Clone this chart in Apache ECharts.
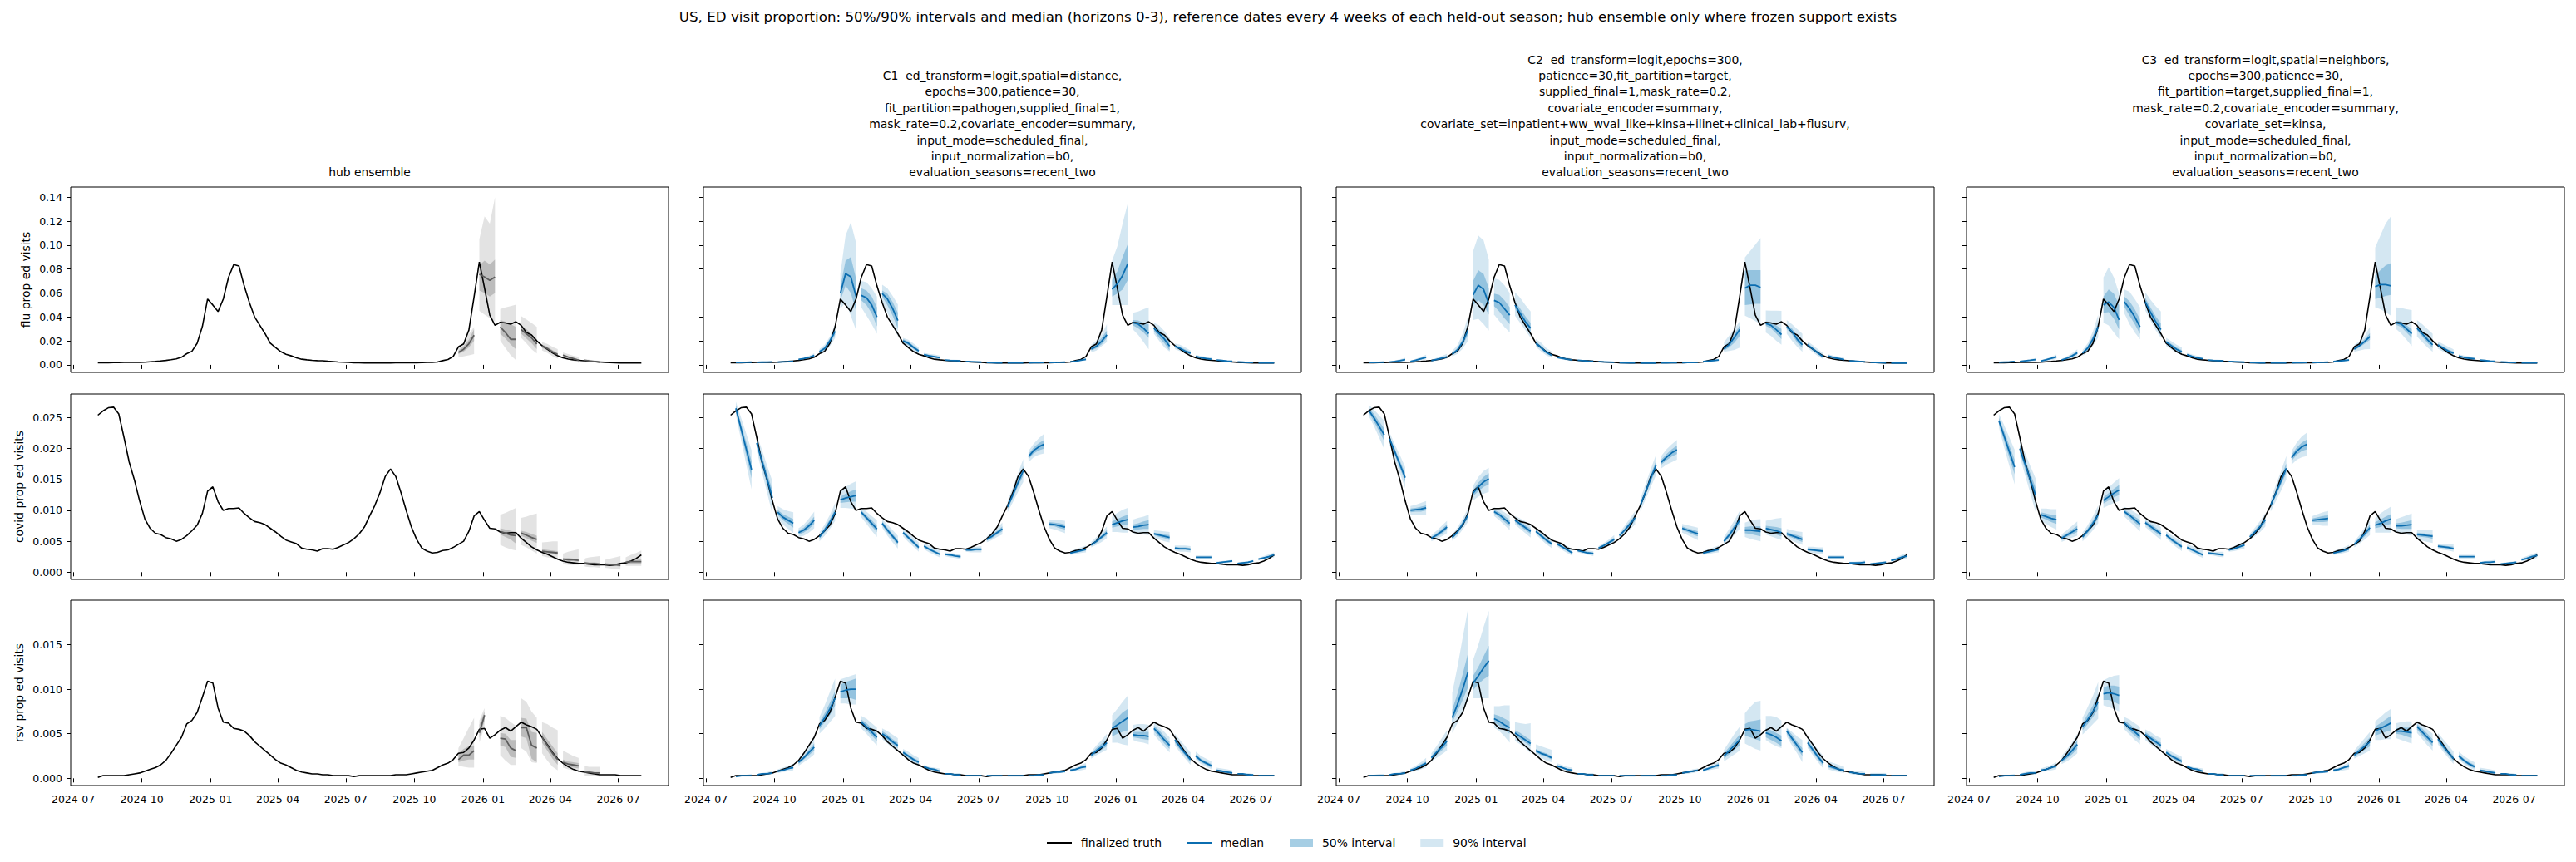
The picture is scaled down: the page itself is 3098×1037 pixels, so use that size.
<!DOCTYPE html>
<html>
<head>
<meta charset="utf-8">
<script src="https://cdn.jsdelivr.net/npm/echarts@6/dist/echarts.min.js"></script>
<style>
html,body{margin:0;padding:0;background:#fff;}
#chart{width:3098px;height:1037px;}
</style>
</head>
<body>
<div id="chart"></div>
<script>
// ---------------- DATA ----------------
const firstWeek = '2024-08-03';           // first weekly target date
const valueUnit = 1e-4;                   // all values below are in units of 1e-4
const tickLabels = ['2024-07','2024-10','2025-01','2025-04','2025-07','2025-10','2026-01','2026-04','2026-07'];
const fluTicks = [0,0.02,0.04,0.06,0.08,0.10,0.12,0.14];
const covidTicks = [0,0.005,0.010,0.015,0.020,0.025];
const rsvTicks = [0,0.005,0.010,0.015];
const rowNames = ['flu prop ed visits','covid prop ed visits','rsv prop ed visits'];
const mainTitle = 'US, ED visit proportion: 50%/90% intervals and median (horizons 0-3), reference dates every 4 weeks of each held-out season; hub ensemble only where frozen support exists';
const colTitles = [
 ['hub ensemble'],
 ['C1  ed_transform=logit,spatial=distance,','epochs=300,patience=30,','fit_partition=pathogen,supplied_final=1,','mask_rate=0.2,covariate_encoder=summary,','input_mode=scheduled_final,','input_normalization=b0,','evaluation_seasons=recent_two'],
 ['C2  ed_transform=logit,epochs=300,','patience=30,fit_partition=target,','supplied_final=1,mask_rate=0.2,','covariate_encoder=summary,','covariate_set=inpatient+ww_wval_like+kinsa+ilinet+clinical_lab+flusurv,','input_mode=scheduled_final,','input_normalization=b0,','evaluation_seasons=recent_two'],
 ['C3  ed_transform=logit,spatial=neighbors,','epochs=300,patience=30,','fit_partition=target,supplied_final=1,','mask_rate=0.2,covariate_encoder=summary,','covariate_set=kinsa,','input_mode=scheduled_final,','input_normalization=b0,','evaluation_seasons=recent_two']
];
const legendNames = ['finalized truth','median','50% interval','90% interval'];

// weekly finalized truth (105 weeks)
const fluTruth = [18,18,18,19,19,20,20,21,21,22, 25,28,32,37,43,50,63,93,113,180,
 320,550,500,445,550,730,838,826,660,520, 400,330,260,180,145,110,88,75,58,47,
 42,38,35,34,30,27,24,22,20,18, 17,16,16,15,15,15,16,17,18,18,
 18,18,19,20,21,24,35,45,70,150, 175,290,570,860,640,415,330,355,350,340,
 360,330,270,250,200,160,130,100,75,58, 48,42,38,34,30,27,24,21,19,17, 16,15,15,15,15];
const covidTruth = [254,261,266,267,256,218,178,149,115,86, 71,63,61,56,54,50,53,59,67,76,
 95,131,138,114,100,103,103,104,95,88, 82,80,77,71,65,58,52,49,46,39,
 37,36,34,38,38,37,40,44,48,54, 62,73,91,108,129,155,167,155,129,100,
 73,53,39,34,31,32,35,36,40,45, 50,66,91,98,84,71,70,65,63,64,
 64,55,48,41,36,32,29,25,21,18, 16,15,14,14,13,12,12,12,11,12, 14,15,18,22,28];
const rsvTruth = [1,3,3,3,3,3,4,5,6,8, 10,12,15,20,28,37,46,61,65,74,
 91,109,107,79,63,62,56,55,53,48, 41,36,31,26,21,17,15,12,9,7,
 6,5,5,4,4,3,3,3,3,2, 3,3,3,3,3,3,3,4,4,4,
 5,6,7,8,9,12,15,17,21,28, 29,34,43,55,56,45,49,54,57,53,
 58,63,60,58,55,46,38,29,22,17, 13,10,8,7,6,5,4,4,4,4, 3,3,3,3,3];

// forecast segments: [refIndex k, median h0..h3, q25 h0..h3, q75 h0..h3, q05 h0..h3, q95 h0..h3]
const hubFlu = [
[17, 104,130,176,248, 90,110,145,200, 120,155,210,300, 62,70,80,90, 140,190,260,317],
[18, 757,734,706,734, 620,600,570,600, 830,870,840,880, 450,420,390,360, 1050,1240,1180,1400],
[19, 317,270,213,213, 260,220,170,130, 375,360,340,317, 200,140,80,40, 467,480,490,502],
[20, 294,260,225,174, 260,220,180,132, 330,300,255,213, 225,180,130,95, 408,380,350,317],
[21, 155,137,108,86, 140,122,95,74, 170,152,122,98, 120,100,72,51, 190,175,150,132],
[22, 81,65,52,39, 74,58,46,34, 88,72,58,45, 58,45,35,16, 104,90,75,67],
[23, 39,33,28,21, 36,30,25,19, 42,36,31,24, 30,24,20,15, 48,42,38,34]
];
const c1Flu = [
[0, 19,20,21,22, 18,19,20,20, 20,21,22,23, 17,17,18,18, 21,23,24,26],
[1, 21,22,23,24, 20,21,22,22, 22,23,24,26, 19,19,20,20, 23,25,27,29],
[2, 23,25,27,30, 22,24,25,28, 24,26,29,32, 21,22,23,25, 26,29,32,36],
[3, 45,52,62,78, 42,48,57,71, 48,56,67,85, 38,43,50,60, 52,62,75,96],
[4, 110,137,200,280, 100,125,180,250, 120,150,220,310, 86,104,155,225, 132,167,236,340],
[5, 596,762,735,572, 540,660,600,450, 650,870,900,720, 470,520,410,290, 760,1080,1190,1020],
[6, 580,560,500,400, 540,500,430,320, 640,620,570,480, 480,410,340,260, 700,690,640,570],
[7, 596,550,470,370, 570,500,410,305, 620,595,525,435, 525,435,340,235, 670,640,575,505],
[8, 200,180,145,115, 185,165,132,102, 215,195,160,128, 178,145,113,86, 225,210,178,143],
[9, 85,75,68,60, 79,68,61,53, 92,82,75,67, 72,60,52,45, 100,92,86,78],
[10, 40,37,35,33, 37,34,32,30, 43,40,38,36, 34,31,29,27, 47,45,43,41],
[11, 28,26,24,22, 26,24,22,20, 30,28,26,24, 24,22,20,18, 33,31,29,27],
[12, 19,18,17,17, 18,17,16,16, 20,19,18,18, 17,16,15,15, 22,21,20,20],
[13, 16,16,16,16, 15,15,15,15, 17,17,17,17, 14,14,14,14, 18,18,19,19],
[14, 17,18,18,19, 16,17,17,18, 18,19,19,20, 15,16,16,16, 19,20,21,22],
[15, 19,20,21,22, 18,19,20,21, 20,21,22,24, 17,18,19,19, 21,23,25,27],
[16, 25,30,38,46, 23,28,34,41, 27,33,42,52, 21,25,30,36, 29,37,48,60],
[17, 132,155,197,250, 120,138,172,225, 150,180,225,285, 104,120,156,190, 167,202,255,340],
[18, 630,677,746,846, 570,595,630,710, 710,780,900,1010, 500,500,500,500, 870,990,1180,1350],
[19, 352,340,306,260, 330,305,270,225, 375,370,350,340, 295,250,190,130, 435,445,465,480],
[20, 306,260,215,155, 283,225,180,120, 330,295,248,190, 260,200,145,110, 352,330,283,225],
[21, 155,137,114,97, 145,125,103,86, 165,150,128,110, 132,114,97,81, 178,167,145,120],
[22, 70,60,53,47, 65,55,48,42, 75,65,58,52, 58,48,41,35, 83,74,68,62],
[23, 40,36,32,29, 38,34,30,27, 42,38,34,31, 35,31,27,24, 45,42,38,35],
[24, 24,22,20,19, 23,21,19,18, 25,23,21,20, 21,19,17,16, 27,25,24,23],
[25, 17,16,16,16, 16,15,15,15, 18,17,17,17, 15,14,14,13, 19,19,19,19]
];
const c2Flu = [
[0, 19,20,21,22, 18,19,20,21, 20,21,22,24, 17,18,18,19, 22,24,26,28],
[1, 23,28,35,43, 21,25,31,38, 25,31,39,48, 19,22,26,31, 28,36,46,58],
[2, 28,38,50,62, 25,34,44,55, 31,42,56,70, 22,29,37,45, 35,49,66,85],
[3, 35,45,55,67, 32,41,49,59, 38,50,62,75, 28,35,42,50, 43,58,74,92],
[4, 90,125,190,290, 80,110,165,250, 100,140,215,330, 70,92,135,200, 115,165,260,400],
[5, 584,665,630,510, 500,540,500,420, 700,790,760,640, 375,385,340,285, 950,1080,1040,880],
[6, 538,520,468,415, 490,445,388,340, 595,585,540,480, 420,365,315,270, 723,710,665,600],
[7, 500,430,360,306, 470,395,320,265, 530,470,405,350, 410,350,290,225, 607,560,500,445],
[8, 180,145,105,80, 165,130,93,70, 195,160,118,92, 150,112,80,60, 215,185,140,112],
[9, 63,55,47,40, 59,50,42,36, 67,60,52,45, 53,44,37,31, 74,67,60,52],
[10, 38,35,32,30, 36,33,30,28, 40,37,34,32, 33,30,27,25, 43,40,38,36],
[11, 27,25,23,21, 26,24,22,20, 28,26,24,22, 24,22,20,19, 30,28,26,25],
[12, 18,17,16,16, 17,16,15,15, 19,18,17,17, 16,15,14,14, 20,19,19,19],
[13, 15,15,15,15, 14,14,14,14, 16,16,16,16, 13,13,13,13, 17,17,17,17],
[14, 17,17,18,18, 16,16,17,17, 18,18,19,19, 15,15,16,16, 19,20,20,21],
[15, 18,19,20,21, 17,18,19,20, 19,20,21,22, 16,17,18,19, 20,21,23,24],
[16, 28,32,36,40, 26,29,33,36, 30,35,39,44, 24,26,29,32, 33,39,44,50],
[17, 132,170,230,294, 120,145,185,240, 155,195,258,330, 109,115,125,144, 190,245,300,364],
[18, 640,665,665,647, 500,505,510,510, 786,790,790,790, 410,390,365,340, 897,950,1005,1060],
[19, 345,330,294,253, 325,305,262,215, 365,355,330,300, 270,240,200,167, 455,452,452,450],
[20, 317,280,214,167, 300,255,186,140, 335,305,245,198, 260,200,150,109, 375,340,300,260],
[21, 167,132,98,67, 155,120,86,56, 180,145,112,80, 140,105,73,47, 195,165,130,97],
[22, 74,60,52,44, 68,55,47,39, 80,66,58,50, 60,48,40,33, 88,75,67,59],
[23, 34,31,28,25, 32,29,26,23, 36,33,30,27, 29,26,23,21, 39,36,33,30],
[24, 21,19,18,17, 20,18,17,16, 22,20,19,18, 19,17,16,15, 24,22,21,20],
[25, 15,15,15,15, 14,14,14,14, 16,16,16,16, 13,13,13,13, 17,17,17,17]
];
const c3Flu = [
[0, 21,23,25,28, 20,21,23,25, 22,25,27,31, 18,19,20,22, 24,27,31,35],
[1, 28,33,38,44, 26,30,34,39, 30,36,42,49, 23,26,29,33, 33,40,47,56],
[2, 32,42,54,67, 29,38,48,59, 35,46,60,75, 25,32,40,48, 39,52,68,86],
[3, 40,55,75,100, 36,49,66,88, 44,61,84,112, 31,41,55,72, 50,70,97,130],
[4, 97,140,215,317, 87,124,190,280, 107,157,240,355, 75,105,160,230, 122,180,280,420],
[5, 500,525,480,375, 435,440,385,295, 570,630,595,500, 352,330,270,213, 730,815,730,595],
[6, 526,470,400,317, 485,410,340,258, 570,530,465,380, 430,340,270,213, 630,610,550,480],
[7, 526,440,360,294, 495,400,318,245, 560,480,405,345, 455,370,290,225, 607,545,490,445],
[8, 190,160,130,109, 175,145,116,96, 205,175,145,122, 158,128,100,80, 225,197,168,145],
[9, 86,70,58,50, 80,64,52,45, 92,76,64,55, 72,56,45,38, 100,86,74,65],
[10, 40,37,35,33, 37,34,32,30, 43,40,38,36, 34,31,29,27, 47,44,42,40],
[11, 28,26,24,22, 26,24,22,20, 30,28,26,24, 24,22,20,18, 32,30,28,27],
[12, 19,18,17,17, 18,17,16,16, 20,19,18,18, 17,16,15,15, 21,20,20,20],
[13, 16,16,16,16, 15,15,15,15, 17,17,17,17, 14,14,14,14, 18,18,18,18],
[14, 17,18,18,19, 16,17,17,18, 18,19,19,20, 15,16,16,16, 19,20,21,22],
[15, 19,20,21,22, 18,19,20,21, 20,21,22,23, 17,18,18,19, 21,23,24,26],
[16, 28,32,36,40, 26,29,33,36, 30,35,39,44, 24,26,29,32, 33,39,44,50],
[17, 132,160,195,236, 122,146,176,210, 142,175,215,265, 109,120,130,132, 167,195,240,318],
[18, 653,670,670,660, 550,560,575,585, 746,790,830,850, 480,465,440,410, 980,1080,1180,1240],
[19, 352,340,300,260, 335,315,270,225, 370,362,330,300, 300,260,210,155, 480,475,465,457],
[20, 306,260,210,167, 288,235,183,140, 325,285,240,198, 235,190,145,109, 375,340,300,260],
[21, 165,140,115,97, 152,127,102,85, 178,152,128,110, 135,110,88,70, 195,173,150,130],
[22, 74,62,55,50, 68,56,49,44, 80,68,61,56, 60,48,41,36, 88,77,70,65],
[23, 40,36,32,29, 38,34,30,27, 42,38,34,31, 35,31,27,24, 45,42,38,35],
[24, 24,22,20,19, 23,21,19,18, 25,23,21,20, 21,19,17,16, 27,25,24,23],
[25, 17,16,16,16, 16,15,15,15, 18,17,17,17, 15,14,14,13, 19,19,19,19]
];
const hubCovid = [
[19, 66,63,60,59, 61,57,53,46, 71,69,67,65, 44,40,37,35, 93,96,100,104],
[20, 63,60,56,53, 59,55,51,47, 67,65,62,59, 44,40,35,30, 88,90,93,95],
[21, 34,33,32,31, 31,30,29,28, 37,36,35,34, 26,24,23,21, 48,49,50,50],
[22, 21,20,20,19, 19,18,18,17, 23,23,22,22, 13,12,12,12, 30,33,35,37],
[23, 15,14,14,13, 13,12,12,11, 17,16,16,15, 9,8,8,7, 22,24,25,26],
[24, 13,12,12,11, 11,10,10,9, 15,14,14,13, 7,6,5,4, 20,22,24,26],
[25, 16,17,17,17, 14,14,14,14, 18,19,20,21, 10,10,10,10, 24,28,31,35]
];
const c1Covid = [
[0, 265,232,199,166, 260,224,188,152, 270,240,210,180, 254,214,174,134, 276,250,224,197],
[1, 209,180,150,120, 203,172,140,108, 215,188,160,132, 196,162,128,94, 222,198,172,147],
[2, 97,89,84,79, 93,84,78,72, 101,94,90,86, 87,77,70,63, 107,102,99,97],
[3, 64,68,75,84, 61,64,70,78, 67,72,80,90, 57,59,64,71, 71,77,87,98],
[4, 57,68,81,97, 54,64,76,91, 60,72,86,103, 50,59,70,83, 64,77,93,112],
[5, 117,120,122,124, 112,113,114,114, 122,127,131,134, 104,104,103,102, 130,138,143,147],
[6, 97,88,79,70, 94,84,74,65, 100,92,84,75, 89,78,67,57, 105,98,91,84],
[7, 79,68,58,48, 76,64,54,44, 82,72,62,52, 72,59,48,38, 86,77,68,59],
[8, 64,56,48,40, 62,53,45,37, 66,59,51,43, 58,49,41,33, 70,63,56,48],
[9, 42,37,33,29, 40,35,31,27, 44,39,35,31, 37,32,28,24, 47,43,39,35],
[10, 29,28,26,25, 28,26,25,23, 30,29,28,27, 26,24,23,21, 32,31,30,29],
[11, 36,36,37,37, 35,34,35,35, 37,38,39,39, 33,32,32,32, 39,40,41,42],
[12, 53,58,64,70, 51,55,61,66, 55,61,67,74, 48,52,57,61, 58,64,72,80],
[13, 106,125,145,164, 102,120,139,156, 110,130,151,172, 97,113,130,146, 115,137,160,183],
[14, 187,197,203,207, 183,192,197,200, 191,202,209,214, 178,186,190,192, 196,208,217,224],
[15, 78,77,75,73, 75,74,71,69, 81,80,79,77, 71,69,66,63, 85,85,84,83],
[16, 31,33,35,37, 30,31,33,35, 32,35,37,39, 28,29,31,32, 34,37,40,43],
[17, 44,50,57,64, 42,47,54,60, 46,53,60,68, 40,44,49,55, 49,57,65,74],
[18, 77,80,83,85, 72,74,76,77, 82,86,90,93, 65,65,64,64, 90,96,101,104],
[19, 73,74,76,77, 69,69,70,70, 77,79,82,84, 63,62,61,60, 85,88,90,93],
[20, 62,60,58,56, 60,57,55,52, 64,63,61,60, 56,53,50,48, 68,67,66,65],
[21, 39,38,38,37, 37,36,36,35, 41,40,40,39, 35,33,33,32, 43,43,43,42],
[22, 24,24,24,24, 23,23,23,23, 25,25,25,25, 21,21,21,21, 27,27,27,27],
[23, 15,16,17,18, 14,15,16,17, 16,17,18,19, 13,14,15,16, 17,18,19,20],
[24, 14,15,16,18, 13,14,15,17, 15,16,17,19, 12,13,14,16, 16,17,18,20],
[25, 21,23,25,28, 20,22,24,26, 22,24,27,30, 19,21,22,24, 23,26,29,32]
];
const c2Covid = [
[0, 262,250,236,222, 258,244,228,212, 266,256,244,232, 253,237,218,199, 271,263,254,245],
[1, 216,195,174,153, 212,190,168,146, 220,200,180,160, 206,183,159,136, 226,207,189,170],
[2, 100,101,102,104, 97,98,98,100, 103,104,106,108, 93,93,92,93, 107,109,112,115],
[3, 55,60,66,73, 53,57,62,69, 57,63,70,77, 50,54,58,63, 60,67,75,83],
[4, 56,65,78,92, 54,62,74,87, 58,68,82,97, 51,58,69,81, 61,72,87,103],
[5, 128,138,146,151, 123,131,138,142, 133,145,154,160, 116,122,127,130, 140,154,164,169],
[6, 98,93,86,79, 95,89,81,74, 101,97,91,84, 91,84,76,68, 105,102,97,91],
[7, 84,78,72,66, 81,74,68,62, 87,82,76,70, 77,70,63,56, 91,87,82,77],
[8, 66,59,52,46, 64,56,49,43, 68,62,55,49, 61,53,45,39, 72,66,60,54],
[9, 46,41,36,31, 44,39,34,29, 48,43,38,33, 42,36,31,26, 51,46,42,37],
[10, 35,33,31,30, 34,32,30,28, 36,34,33,32, 32,30,28,26, 38,37,35,34],
[11, 39,43,48,53, 38,41,46,50, 40,45,50,56, 36,39,43,47, 42,47,53,60],
[12, 59,68,78,88, 57,65,74,83, 61,71,82,93, 54,61,69,77, 64,75,87,99],
[13, 108,130,152,173, 104,125,146,166, 112,135,158,180, 98,118,138,157, 118,143,167,190],
[14, 178,186,193,198, 174,181,187,191, 182,191,199,205, 168,174,178,182, 188,199,207,214],
[15, 71,68,65,62, 68,65,61,58, 74,71,69,66, 64,60,56,52, 78,76,74,72],
[16, 31,33,35,37, 30,31,33,35, 32,35,37,39, 28,29,31,32, 34,37,40,43],
[17, 50,60,72,84, 47,56,67,78, 53,64,77,90, 43,51,60,70, 57,70,84,99],
[18, 68,68,67,66, 63,62,60,58, 73,74,74,74, 57,54,52,50, 80,83,85,86],
[19, 71,69,67,64, 67,64,61,58, 75,74,73,71, 61,58,55,52, 83,85,87,88],
[20, 62,59,56,53, 59,56,52,49, 65,62,60,57, 55,51,47,44, 70,68,66,65],
[21, 37,36,35,34, 35,34,33,32, 39,38,37,36, 33,31,30,29, 41,41,40,40],
[22, 24,24,24,24, 23,23,23,23, 25,25,25,25, 21,21,21,21, 27,27,27,27],
[23, 15,15,15,16, 14,14,14,15, 16,16,16,17, 13,13,13,14, 17,17,18,19],
[24, 13,14,15,16, 12,13,14,15, 14,15,16,17, 11,12,13,14, 15,16,17,18],
[25, 19,21,24,26, 18,20,22,24, 20,22,26,28, 17,18,20,22, 21,24,28,31]
];
const c3Covid = [
[0, 245,220,195,170, 240,212,185,158, 250,228,205,182, 234,202,172,142, 256,238,218,198],
[1, 200,175,150,125, 194,167,140,113, 206,183,160,137, 187,157,128,98, 213,193,172,152],
[2, 93,90,87,85, 89,85,81,78, 97,95,93,92, 83,78,73,69, 103,103,102,102],
[3, 55,60,65,70, 52,57,61,65, 58,63,69,75, 49,53,56,59, 61,68,75,82],
[4, 57,67,79,93, 54,63,74,87, 60,71,84,99, 50,58,68,79, 64,76,91,108],
[5, 116,122,128,133, 111,116,121,125, 121,128,135,141, 104,108,112,115, 128,137,145,152],
[6, 98,92,85,78, 95,88,80,73, 101,96,90,84, 90,82,74,66, 106,102,97,92],
[7, 80,74,68,62, 77,70,64,58, 83,78,72,66, 73,66,59,52, 88,83,78,73],
[8, 60,53,47,41, 58,50,44,38, 62,56,50,44, 55,47,40,34, 66,60,55,50],
[9, 40,36,32,28, 38,34,30,26, 42,38,34,30, 36,31,27,23, 45,42,38,35],
[10, 31,30,29,28, 30,29,28,26, 32,31,30,30, 28,27,25,24, 34,33,33,33],
[11, 36,38,41,44, 35,36,39,42, 37,40,43,46, 33,34,36,38, 39,42,46,50],
[12, 57,65,74,85, 55,62,70,80, 59,68,78,90, 52,58,65,74, 62,72,83,96],
[13, 108,128,148,168, 104,123,142,160, 112,133,154,176, 98,115,132,150, 118,141,164,188],
[14, 185,196,203,207, 180,190,196,199, 190,202,210,215, 174,182,186,188, 196,210,220,226],
[15, 84,85,86,87, 81,81,81,82, 87,89,91,92, 77,76,75,75, 91,94,97,99],
[16, 31,33,35,38, 30,31,33,36, 32,35,37,40, 28,29,31,33, 34,37,40,44],
[17, 45,53,62,72, 43,50,58,67, 47,56,66,77, 40,46,53,60, 50,60,72,84],
[18, 76,79,83,86, 71,73,76,78, 81,85,90,94, 64,64,64,64, 88,95,101,106],
[19, 75,75,76,77, 71,70,70,70, 79,80,82,84, 65,63,61,59, 86,89,92,95],
[20, 61,60,59,58, 58,57,56,54, 64,63,62,62, 54,51,49,47, 68,68,68,68],
[21, 42,41,40,38, 40,39,38,36, 44,43,42,41, 38,36,35,33, 46,46,46,45],
[22, 25,25,25,25, 24,24,24,24, 26,26,26,26, 22,22,22,22, 28,28,28,28],
[23, 15,16,16,17, 14,15,15,16, 16,17,17,18, 13,14,14,15, 17,18,19,20],
[24, 13,14,15,16, 12,13,14,15, 14,15,16,17, 11,12,13,14, 15,16,17,18],
[25, 20,22,25,27, 19,21,23,25, 21,24,27,29, 18,19,21,23, 23,26,29,32]
];
const hubRsv = [
[17, 21,26,26,31, 18,20,21,21, 28,33,36,37, 14,13,12,12, 34,45,57,68],
[18, 51,71,null,null, 45,65,null,null, 60,75,null,null, 40,58,null,null, 65,79,null,null],
[19, 45,44,34,31, 37,35,24,23, 51,50,43,43, 26,20,15,15, 70,68,63,59],
[20, 57,57,37,34, 47,45,22,18, 68,67,52,51, 34,30,18,17, 90,86,75,68],
[21, 46,37,28,21, 40,31,22,15, 52,44,36,28, 28,20,13,9, 63,61,57,54],
[22, 18,16,15,14, 15,13,12,11, 21,19,18,17, 12,10,9,9, 31,28,25,23],
[23, 7,7,6,6, 6,6,5,5, 8,8,7,7, 3,3,3,2, 14,13,13,13]
];
const c1Rsv = [
[0, 2,3,3,3, 2,2,3,3, 3,3,4,4, 1,2,2,2, 3,4,4,5],
[1, 4,5,5,6, 3,4,5,5, 4,5,6,7, 3,3,4,4, 5,6,7,8],
[2, 8,9,11,12, 7,8,10,11, 9,10,12,14, 6,7,8,9, 10,12,14,16],
[3, 18,23,29,35, 16,21,26,31, 20,25,32,39, 14,18,22,27, 22,29,37,45],
[4, 59,68,78,90, 55,63,71,82, 63,73,85,98, 50,56,63,70, 69,82,97,112],
[5, 97,99,100,100, 90,90,90,88, 105,108,110,112, 84,84,83,83, 111,113,115,117],
[6, 63,58,52,46, 60,54,48,42, 66,62,56,50, 56,50,43,37, 70,67,62,57],
[7, 50,46,41,37, 47,43,38,34, 53,49,44,40, 44,39,34,30, 56,53,49,45],
[8, 29,25,21,18, 27,23,19,16, 31,27,23,20, 25,21,17,14, 33,30,26,23],
[9, 13,11,10,8, 12,10,9,7, 14,12,11,9, 11,9,8,6, 15,13,12,11],
[10, 5,5,4,4, 5,4,4,4, 6,5,5,5, 4,4,3,3, 6,6,6,6],
[11, 3,3,3,3, 3,3,3,3, 4,4,4,4, 2,2,2,2, 4,4,4,4],
[12, 3,3,3,3, 2,2,2,2, 3,3,3,3, 2,2,2,2, 4,4,4,4],
[13, 3,3,3,3, 2,2,2,2, 3,3,3,3, 2,2,2,2, 4,4,4,4],
[14, 3,3,4,4, 3,3,3,3, 4,4,4,5, 2,2,3,3, 4,4,5,5],
[15, 6,7,7,8, 5,6,7,7, 6,7,8,9, 5,5,6,6, 7,8,9,10],
[16, 9,10,12,13, 8,9,11,12, 10,11,13,15, 7,8,9,10, 11,12,15,17],
[17, 26,31,35,40, 24,28,32,36, 28,34,39,44, 22,26,29,32, 30,37,43,50],
[18, 56,60,64,68, 47,50,52,54, 62,68,74,78, 40,40,38,37, 71,78,86,93],
[19, 49,48,48,47, 46,45,44,43, 52,52,52,52, 43,41,40,38, 60,61,61,60],
[20, 56,50,43,37, 53,46,39,33, 59,54,47,41, 49,42,35,29, 63,58,52,46],
[21, 43,35,28,21, 40,32,25,18, 46,38,31,24, 37,29,22,15, 50,43,36,29],
[22, 25,20,17,14, 23,18,15,12, 27,22,19,16, 21,16,13,10, 30,25,22,19],
[23, 9,8,7,6, 8,7,6,5, 10,9,8,7, 7,6,5,4, 12,11,10,9],
[24, 5,5,4,4, 5,4,4,4, 6,5,5,5, 4,4,3,3, 6,6,6,5],
[25, 3,3,3,3, 3,3,3,3, 4,4,4,4, 2,2,2,2, 4,4,4,4]
];
const c2Rsv = [
[0, 3,3,3,3, 2,3,3,3, 3,4,4,4, 2,2,2,2, 4,4,5,5],
[1, 4,5,5,6, 3,4,5,5, 4,5,6,7, 3,3,4,4, 5,6,7,8],
[2, 9,11,14,17, 8,10,12,15, 10,12,16,19, 7,8,10,12, 11,14,18,23],
[3, 23,29,35,42, 21,26,31,37, 25,32,39,47, 19,23,27,31, 28,36,45,54],
[4, 68,83,100,119, 63,75,88,102, 77,95,117,140, 51,62,74,87, 96,125,158,190],
[5, 107,115,124,132, 99,106,111,115, 115,125,137,149, 90,90,90,90, 133,150,170,188],
[6, 67,64,60,57, 63,59,54,50, 72,70,67,64, 57,53,47,40, 81,81,82,82],
[7, 51,47,43,39, 48,44,40,36, 54,51,47,43, 42,38,34,28, 63,62,61,62],
[8, 31,28,26,23, 29,26,24,21, 33,30,28,25, 26,23,20,18, 38,36,34,32],
[9, 14,12,10,9, 13,11,9,8, 15,13,11,10, 12,10,8,7, 17,15,13,12],
[10, 5,5,4,4, 5,4,4,4, 6,5,5,5, 4,4,3,3, 6,6,6,6],
[11, 3,3,3,3, 3,3,3,3, 4,4,4,4, 2,2,2,2, 4,4,4,4],
[12, 3,3,3,3, 2,2,2,2, 3,3,3,3, 2,2,2,2, 4,4,4,4],
[13, 3,3,3,3, 2,2,2,2, 3,3,3,3, 2,2,2,2, 4,4,4,4],
[14, 3,3,4,4, 3,3,3,3, 4,4,4,5, 2,2,3,3, 4,4,5,5],
[15, 6,7,8,9, 5,6,7,8, 6,7,8,10, 5,5,6,7, 7,8,10,11],
[16, 9,11,13,15, 8,10,12,13, 10,12,14,17, 7,9,10,11, 11,13,16,19],
[17, 25,31,37,43, 22,27,32,37, 28,35,42,49, 19,23,27,31, 32,41,50,58],
[18, 54,55,54,53, 48,46,44,42, 61,64,65,66, 39,36,33,31, 73,80,86,87],
[19, 51,49,46,42, 46,43,40,36, 56,54,51,48, 43,39,36,34, 70,70,69,65],
[20, 53,45,37,29, 50,41,33,25, 56,49,41,34, 47,37,28,18, 57,52,47,43],
[21, 40,32,24,17, 37,29,21,14, 43,35,27,20, 34,26,18,11, 47,40,32,25],
[22, 14,12,10,9, 12,10,9,8, 16,14,12,10, 10,8,7,6, 19,17,15,13],
[23, 7,6,5,5, 6,5,4,4, 8,7,6,6, 5,4,4,3, 9,8,8,7],
[24, 4,4,4,4, 3,3,3,3, 5,5,5,5, 3,3,3,3, 6,6,6,6],
[25, 3,3,3,3, 3,3,3,3, 4,4,4,4, 2,2,2,2, 4,4,4,4]
];
const c3Rsv = [
[0, 2,3,3,3, 2,2,3,3, 3,3,4,4, 1,2,2,2, 3,4,4,5],
[1, 4,5,6,6, 3,4,5,5, 5,6,7,7, 3,3,4,4, 5,7,8,9],
[2, 9,10,12,14, 8,9,11,12, 10,11,13,16, 7,8,9,10, 11,13,15,18],
[3, 20,25,31,38, 18,22,27,33, 22,28,35,43, 16,19,23,28, 25,32,40,50],
[4, 58,66,75,86, 54,61,69,78, 62,72,82,95, 49,55,61,67, 68,80,93,108],
[5, 95,96,95,93, 88,88,86,83, 102,104,104,103, 82,80,78,75, 110,113,115,116],
[6, 62,57,52,47, 59,53,48,43, 65,61,56,51, 55,49,43,38, 69,66,62,58],
[7, 49,45,41,37, 46,42,38,34, 52,48,44,40, 43,38,34,30, 55,52,48,45],
[8, 29,25,22,19, 27,23,20,17, 31,27,24,21, 25,21,18,15, 33,30,27,24],
[9, 13,11,10,8, 12,10,9,7, 14,12,11,9, 11,9,8,6, 15,13,12,11],
[10, 5,5,4,4, 5,4,4,4, 6,5,5,5, 4,4,3,3, 6,6,6,6],
[11, 3,3,3,3, 3,3,3,3, 4,4,4,4, 2,2,2,2, 4,4,4,4],
[12, 3,3,3,3, 2,2,2,2, 3,3,3,3, 2,2,2,2, 4,4,4,4],
[13, 3,3,3,3, 2,2,2,2, 3,3,3,3, 2,2,2,2, 4,4,4,4],
[14, 3,3,4,4, 3,3,3,3, 4,4,4,5, 2,2,3,3, 4,4,5,5],
[15, 6,7,7,8, 5,6,7,7, 6,7,8,9, 5,5,6,6, 7,8,9,10],
[16, 9,10,12,14, 8,9,11,12, 10,11,13,16, 7,8,9,10, 11,12,15,18],
[17, 26,31,36,41, 24,28,32,36, 28,34,40,46, 22,25,28,31, 31,38,45,52],
[18, 53,56,59,62, 48,50,52,54, 58,62,66,70, 43,43,44,44, 64,69,74,78],
[19, 53,53,52,51, 50,49,47,45, 56,57,57,57, 45,43,41,39, 62,63,64,64],
[20, 58,52,46,40, 55,48,42,36, 61,56,50,44, 51,44,37,31, 65,60,55,50],
[21, 44,36,29,22, 41,33,26,19, 47,39,32,25, 38,30,23,16, 51,44,37,30],
[22, 25,20,16,13, 23,18,14,11, 27,22,18,15, 21,16,12,9, 30,25,21,18],
[23, 9,8,7,6, 8,7,6,5, 10,9,8,7, 7,6,5,4, 12,11,10,9],
[24, 5,5,4,4, 5,4,4,4, 6,5,5,5, 4,4,3,3, 6,6,6,5],
[25, 3,3,3,3, 3,3,3,3, 4,4,4,4, 2,2,2,2, 4,4,4,4]
];

// ---------------- LAYOUT / STYLE ----------------
const FONT = 'DejaVu Sans';
const W = 3098, H = 1037;
const colLeft = [85, 846, 1607, 2365];
const colWidth = 719;
const rowTop = [225, 474, 722];
const rowHeight = 223;
const yRange = [[-0.0063, 0.1485], [-0.00117, 0.02883], [-0.00081, 0.0200]];
const yDecimals = [2, 3, 3];
const nameGaps = [47, 55, 55];
const MEDIAN = '#0b6db0';
const BLUE90 = 'rgba(0,114,178,0.17)';
const BLUE50 = 'rgba(0,114,178,0.30)';
const BLUE50_LEG = 'rgba(0,114,178,0.35)';
const HUB_MED = '#5c5c5c';
const HUB90 = 'rgba(0,0,0,0.11)';
const HUB50 = 'rgba(0,0,0,0.17)';

const WEEK = 7 * 24 * 3600 * 1000;
const t0 = Date.parse(firstWeek + 'T00:00:00Z');
const weekTime = i => t0 + i * WEEK;
const xMin = weekTime(-5.2), xMax = weekTime(109.2);
const xTickVals = tickLabels.map(s => { const p = s.split('-').map(Number); return Date.UTC(p[0], p[1] - 1, 1); });
const fmtDate = v => { const d = new Date(v); return d.getUTCFullYear() + '-' + String(d.getUTCMonth() + 1).padStart(2, '0'); };

const truths = [fluTruth, covidTruth, rsvTruth];
const yTicks = [fluTicks, covidTicks, rsvTicks];
const forecasts = [[hubFlu, c1Flu, c2Flu, c3Flu], [hubCovid, c1Covid, c2Covid, c3Covid], [hubRsv, c1Rsv, c2Rsv, c3Rsv]];

function bandData(segs, lo, hi) {
  return segs.map(s => {
    const k = s[0], d = [];
    for (let h = 0; h < 4; h++) d.push(weekTime(1 + 4 * k + h));
    for (let h = 0; h < 4; h++) d.push(s[lo + h] == null ? null : s[lo + h] * valueUnit);
    for (let h = 0; h < 4; h++) d.push(s[hi + h] == null ? null : s[hi + h] * valueUnit);
    return d;
  });
}
function makeBand(color) {
  return function (params, api) {
    const top = [], bot = [];
    for (let h = 0; h < 4; h++) {
      const t = api.value(h), lo = api.value(4 + h), hi = api.value(8 + h);
      if (!isFinite(lo) || !isFinite(hi)) continue;
      top.push(api.coord([t, hi]));
      bot.push(api.coord([t, lo]));
    }
    if (top.length < 2) return null;
    return { type: 'polygon', shape: { points: top.concat(bot.reverse()) }, style: { fill: color, stroke: null } };
  };
}
function medianData(segs) {
  const out = [];
  segs.forEach(s => {
    const k = s[0];
    for (let h = 0; h < 4; h++) if (s[1 + h] != null) out.push([weekTime(1 + 4 * k + h), s[1 + h] * valueUnit]);
    out.push([weekTime(4 + 4 * k) + WEEK / 2, null]);
  });
  return out;
}

const grids = [], xAxes = [], yAxes = [], series = [];
for (let r = 0; r < 3; r++) {
  for (let c = 0; c < 4; c++) {
    const g = r * 4 + c;
    grids.push({ left: colLeft[c], top: rowTop[r], width: colWidth, height: rowHeight, show: true,
      borderColor: '#000', borderWidth: 1, backgroundColor: 'transparent' });
    xAxes.push({ type: 'value', gridIndex: g, position: 'bottom', min: xMin, max: xMax,
      splitLine: { show: false }, axisLine: { show: false },
      axisTick: { show: true, customValues: xTickVals, length: 5, lineStyle: { color: '#000', width: 1 } },
      axisLabel: { show: r === 2, customValues: xTickVals, formatter: fmtDate, color: '#000', fontSize: 12.5, fontFamily: FONT, margin: 10 } });
    yAxes.push({ type: 'value', gridIndex: g, position: 'left', min: yRange[r][0], max: yRange[r][1],
      splitLine: { show: false }, axisLine: { show: false },
      axisTick: { show: true, customValues: yTicks[r], length: 5, lineStyle: { color: '#000', width: 1 } },
      axisLabel: { show: c === 0, customValues: yTicks[r], formatter: v => Number(v).toFixed(yDecimals[r]), color: '#000', fontSize: 12.5, fontFamily: FONT, margin: 10 },
      name: c === 0 ? rowNames[r] : '', nameLocation: 'middle', nameRotate: 90, nameGap: nameGaps[r],
      nameTextStyle: { color: '#000', fontSize: 13.9, fontFamily: FONT } });

    const segs = forecasts[r][c];
    const hub = c === 0;
    series.push({ type: 'custom', name: legendNames[3], xAxisIndex: g, yAxisIndex: g, coordinateSystem: 'cartesian2d',
      data: bandData(segs, 13, 17), renderItem: makeBand(hub ? HUB90 : BLUE90),
      encode: { x: [0, 1, 2, 3], y: [4, 5, 6, 7, 8, 9, 10, 11] }, silent: true, z: 1, animation: false });
    series.push({ type: 'custom', name: legendNames[2], xAxisIndex: g, yAxisIndex: g, coordinateSystem: 'cartesian2d',
      data: bandData(segs, 5, 9), renderItem: makeBand(hub ? HUB50 : BLUE50),
      encode: { x: [0, 1, 2, 3], y: [4, 5, 6, 7, 8, 9, 10, 11] }, silent: true, z: 1, animation: false });
    series.push({ type: 'line', name: legendNames[0], xAxisIndex: g, yAxisIndex: g,
      data: truths[r].map((v, i) => [weekTime(i), v * valueUnit]),
      symbol: 'none', showSymbol: false, lineStyle: { color: '#000', width: 1.6 }, itemStyle: { color: '#000' },
      silent: true, z: 2, animation: false });
    series.push({ type: 'line', name: legendNames[1], xAxisIndex: g, yAxisIndex: g,
      data: medianData(segs), connectNulls: false,
      symbol: 'none', showSymbol: false, lineStyle: { color: hub ? HUB_MED : MEDIAN, width: 1.8 }, itemStyle: { color: hub ? HUB_MED : MEDIAN },
      silent: true, z: 3, animation: false });
  }
}

const colCenters = colLeft.map(l => l + colWidth / 2);
const titles = [{ text: mainTitle, left: W / 2, top: 20, textAlign: 'center', textVerticalAlign: 'middle', padding: 0,
  textStyle: { fontSize: 16.7, fontWeight: 'normal', color: '#000', fontFamily: FONT } }];
colTitles.forEach((lines, c) => titles.push({ text: lines.join('\n'), left: colCenters[c], top: 217, textAlign: 'center',
  textVerticalAlign: 'bottom', padding: 0, textStyle: { fontSize: 13.9, fontWeight: 'normal', color: '#000', fontFamily: FONT, lineHeight: 19.4 } }));

const legendText = { fontSize: 13.9, color: '#000', fontFamily: FONT, padding: [0, 0, 0, 6] };
const option = {
  backgroundColor: '#fff',
  animation: false,
  title: titles,
  legend: [
    { data: [{ name: legendNames[0], itemStyle: { color: '#000', borderWidth: 0 } }, { name: legendNames[1], itemStyle: { color: MEDIAN, borderWidth: 0 } }],
      left: 1259, top: 1007, padding: 0, icon: 'rect', itemWidth: 30, itemHeight: 2, itemGap: 30, selectedMode: false, textStyle: legendText },
    { data: [{ name: legendNames[2], itemStyle: { color: BLUE50_LEG, borderWidth: 0 } }, { name: legendNames[3], itemStyle: { color: BLUE90, borderWidth: 0 } }],
      left: 1551, top: 1007, padding: 0, icon: 'rect', itemWidth: 28, itemHeight: 10, itemGap: 30, selectedMode: false, textStyle: legendText }
  ],
  grid: grids, xAxis: xAxes, yAxis: yAxes, series: series
};
const chart = echarts.init(document.getElementById('chart'), null, { renderer: 'svg', width: W, height: H });
chart.setOption(option);
</script>
</body>
</html>
